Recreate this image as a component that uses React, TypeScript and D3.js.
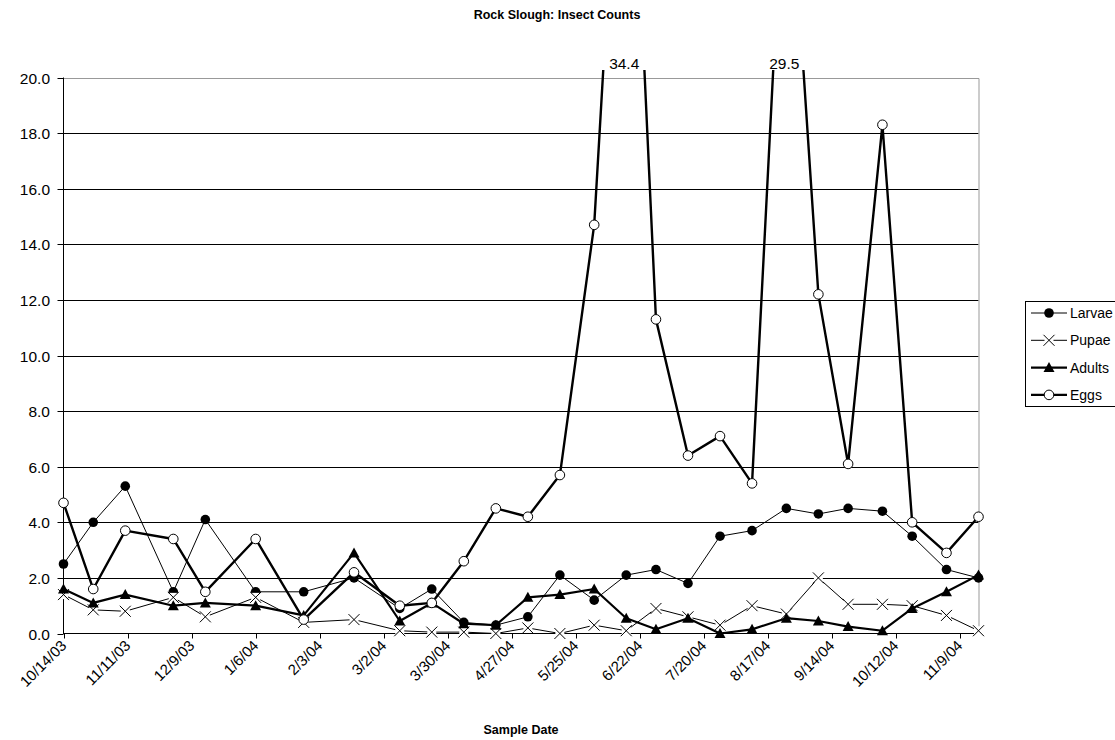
import React from 'react';
import * as d3 from 'd3';

const sampleDates = [
  '10/14/03', '10/27/03', '11/10/03', '12/1/03', '12/15/03', '1/6/04', '1/27/04', '2/18/04',
  '3/9/04', '3/23/04', '4/6/04', '4/20/04', '5/4/04', '5/18/04', '6/2/04', '6/16/04',
  '6/29/04', '7/13/04', '7/27/04', '8/10/04', '8/25/04', '9/8/04', '9/21/04', '10/6/04',
  '10/19/04', '11/3/04', '11/17/04',
];
const larvae = [2.5, 4.0, 5.3, 1.5, 4.1, 1.5, 1.5, 2.0, 0.9, 1.6, 0.4, 0.3, 0.6, 2.1, 1.2, 2.1, 2.3, 1.8, 3.5, 3.7, 4.5, 4.3, 4.5, 4.4, 3.5, 2.3, 2.0];
const pupae = [1.4, 0.85, 0.8, 1.3, 0.6, 1.3, 0.4, 0.5, 0.1, 0.05, 0.05, 0.0, 0.2, 0.0, 0.3, 0.1, 0.9, 0.6, 0.3, 1.0, 0.7, 2.0, 1.05, 1.05, 1.0, 0.65, 0.1];
const adults = [1.6, 1.1, 1.4, 1.0, 1.1, 1.0, 0.65, 2.9, 0.45, 1.1, 0.35, 0.3, 1.3, 1.4, 1.6, 0.55, 0.15, 0.55, 0.0, 0.15, 0.55, 0.45, 0.25, 0.1, 0.9, 1.5, 2.1];
const eggs = [4.7, 1.6, 3.7, 3.4, 1.5, 3.4, 0.5, 2.2, 1.0, 1.1, 2.6, 4.5, 4.2, 5.7, 14.7, 34.4, 11.3, 6.4, 7.1, 5.4, 29.5, 12.2, 6.1, 18.3, 4.0, 2.9, 4.2];

const xTickLabels = [
  '10/14/03', '11/11/03', '12/9/03', '1/6/04', '2/3/04', '3/2/04', '3/30/04', '4/27/04',
  '5/25/04', '6/22/04', '7/20/04', '8/17/04', '9/14/04', '10/12/04', '11/9/04',
];
const yTicks = [0, 2, 4, 6, 8, 10, 12, 14, 16, 18, 20];

const seriesNames = ['Larvae', 'Pupae', 'Adults', 'Eggs'];

const title = 'Rock Slough: Insect Counts';
const xTitle = 'Sample Date';

const parse = (s: string) => {
  const [m, d, y] = s.split('/').map(Number);
  return new Date(Date.UTC(2000 + y, m - 1, d));
};

const FONT = 'Liberation Sans, Arial, sans-serif';

function Marker({ kind, cx, cy }: { kind: string; cx: number; cy: number }) {
  if (kind === 'Larvae') return <circle cx={cx} cy={cy} r={4.8} fill="#000" />;
  if (kind === 'Eggs') return <circle cx={cx} cy={cy} r={4.8} fill="#fff" stroke="#000" strokeWidth={1} />;
  if (kind === 'Adults') {
    const p = `M${cx},${cy - 5.5} L${cx + 5.5},${cy + 4.5} L${cx - 5.5},${cy + 4.5} Z`;
    return <path d={p} fill="#000" />;
  }
  const s = 5.5;
  return (
    <g>
      <rect x={cx - s + 1} y={cy - s + 1} width={2 * s - 2} height={2 * s - 2} fill="#fff" />
      <path d={`M${cx - s},${cy - s} L${cx + s},${cy + s} M${cx + s},${cy - s} L${cx - s},${cy + s}`} stroke="#000" strokeWidth={1} fill="none" />
    </g>
  );
}

export default function App() {
  const dates = sampleDates.map(parse);
  const x = d3.scaleUtc().domain([dates[0], dates[dates.length - 1]]).range([63.5, 978.5]);
  const y = d3.scaleLinear().domain([0, 20]).range([633.5, 77.5]);

  const data: Record<string, number[]> = { Larvae: larvae, Pupae: pupae, Adults: adults, Eggs: eggs };
  const widths: Record<string, number> = { Larvae: 1, Pupae: 1, Adults: 2.2, Eggs: 2.4 };

  const line = d3.line<number>().x((_, i) => x(dates[i])).y((v) => y(v));

  const left = 63.5, right = 978.5, top = 77.5, bottom = 633.5;

  return (
    <svg width={1115} height={740} style={{ position: 'absolute', left: 0, top: 0, background: '#fff' }} fontFamily={FONT}>
      <defs>
        <clipPath id="plotClip">
          <rect x={left - 8} y={70} width={right - left + 16} height={bottom - 70 + 10} />
        </clipPath>
      </defs>
      <rect x={0} y={0} width={1115} height={740} fill="#fff" />
      <text x={557} y={19} textAnchor="middle" fontSize={12.5} fontWeight="bold">{title}</text>

      {yTicks.map((t) => (
        <g key={t}>
          {t > 0 && t < 20 && <line x1={left} x2={right} y1={Math.round(y(t)) + 0.5} y2={Math.round(y(t)) + 0.5} stroke="#000" strokeWidth={1} />}
          <line x1={left - 6} x2={left} y1={Math.round(y(t)) + 0.5} y2={Math.round(y(t)) + 0.5} stroke="#000" />
          <text x={50} y={Math.round(y(t)) + 6} textAnchor="end" fontSize={15.5}>{t.toFixed(1)}</text>
        </g>
      ))}
      <line x1={left} x2={right + 0.5} y1={Math.round(y(20)) + 0.5} y2={Math.round(y(20)) + 0.5} stroke="#999" />
      <line x1={right + 0.5} x2={right + 0.5} y1={Math.round(y(20)) + 0.5} y2={bottom} stroke="#999" />
      <line x1={left} x2={left} y1={top} y2={bottom + 0.5} stroke="#000" />
      <line x1={left} x2={right + 0.5} y1={bottom} y2={bottom} stroke="#000" />

      {xTickLabels.map((lbl) => {
        const tx = Math.round(x(parse(lbl))) + 0.5;
        return (
          <g key={lbl}>
            <line x1={tx} x2={tx} y1={bottom} y2={bottom + 5} stroke="#000" />
            <text transform={`translate(${tx + 3},${bottom + 13}) rotate(-45)`} textAnchor="end" fontSize={15}>{lbl}</text>
          </g>
        );
      })}
      <text x={521} y={734} textAnchor="middle" fontSize={12.5} fontWeight="bold">{xTitle}</text>

      <g clipPath="url(#plotClip)">
        {seriesNames.map((name) => (
          <g key={name}>
            <path d={line(data[name]) || ''} fill="none" stroke="#000" strokeWidth={widths[name]} strokeLinejoin="round" />
            {data[name].map((v, i) => (v <= 20 ? <Marker key={i} kind={name} cx={x(dates[i])} cy={y(v)} /> : null))}
          </g>
        ))}
      </g>
      {eggs.map((v, i) => (v > 20 ? (
        <text key={i} x={x(dates[i]) - 2} y={69} textAnchor="middle" fontSize={15.5}>{v.toFixed(1)}</text>
      ) : null))}

      <rect x={1025.5} y={301.5} width={100} height={105} fill="#fff" stroke="#000" />
      {seriesNames.map((name, i) => {
        const ly = 313 + i * 27.3;
        return (
          <g key={name}>
            <line x1={1031} x2={1067} y1={ly} y2={ly} stroke="#000" strokeWidth={widths[name]} />
            <Marker kind={name} cx={1049} cy={ly} />
            <text x={1070} y={ly + 5} fontSize={14}>{name}</text>
          </g>
        );
      })}
    </svg>
  );
}
